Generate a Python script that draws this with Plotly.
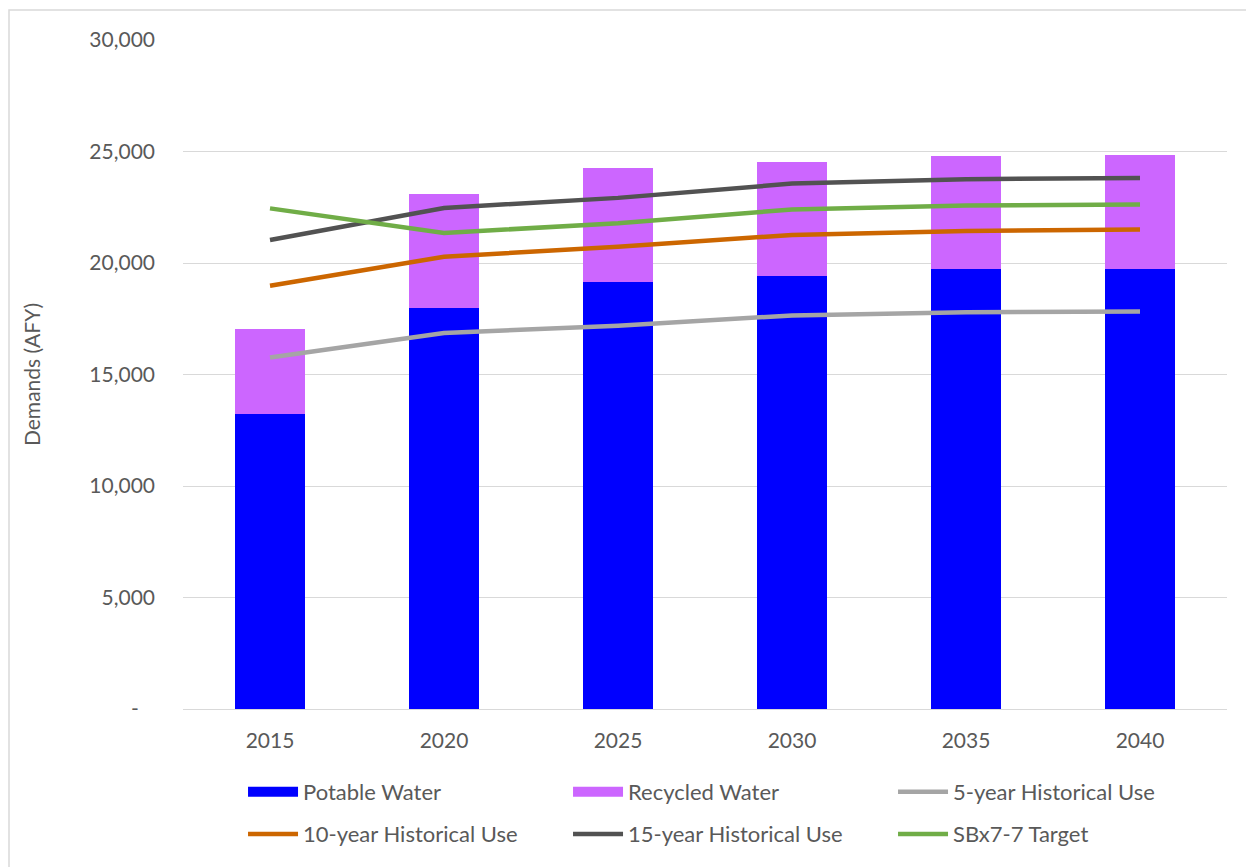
import plotly.graph_objects as go

years = ["2015", "2020", "2025", "2030", "2035", "2040"]
potable = [13230, 18000, 19160, 19420, 19720, 19740]
total_demand = [17040, 23100, 24250, 24520, 24810, 24840]
recycled = [t - p for t, p in zip(total_demand, potable)]
hist5 = [15760, 16860, 17190, 17650, 17790, 17830]
hist10 = [18980, 20280, 20730, 21260, 21440, 21500]
hist15 = [21030, 22470, 22920, 23560, 23760, 23810]
sbx77 = [22450, 21350, 21780, 22400, 22580, 22620]

y_ticks = [0, 5000, 10000, 15000, 20000, 25000, 30000]
y_tick_text = ["-\u00a0\u00a0\u00a0", "5,000", "10,000", "15,000", "20,000", "25,000", "30,000"]

FONT = "Lato, Calibri, Carlito, sans-serif"
TXT = "#595959"
BLUE = "#0000FF"
PURPLE = "#CC66FF"

fig = go.Figure()
fig.add_trace(go.Bar(x=years, y=potable, name="Potable Water", marker_color=BLUE,
                     marker_line_width=0, showlegend=False, legendgroup="pot"))
fig.add_trace(go.Bar(x=years, y=recycled, name="Recycled Water", marker_color=PURPLE,
                     marker_line_width=0, showlegend=False, legendgroup="rec"))
# legend-only entries giving wide rectangular swatches for the bar series
fig.add_trace(go.Scatter(x=[None], y=[None], name="Potable Water", mode="lines",
                         line=dict(color=BLUE, width=14), legend="legend", legendgroup="pot"))
fig.add_trace(go.Scatter(x=[None], y=[None], name="Recycled Water", mode="lines",
                         line=dict(color=PURPLE, width=14), legend="legend", legendgroup="rec"))
fig.add_trace(go.Scatter(x=years, y=hist5, name="5-year Historical Use", mode="lines",
                         line=dict(color="#A5A5A5", width=4.5), legend="legend"))
fig.add_trace(go.Scatter(x=years, y=hist10, name="10-year Historical Use", mode="lines",
                         line=dict(color="#CC6600", width=4.5), legend="legend2"))
fig.add_trace(go.Scatter(x=years, y=hist15, name="15-year Historical Use", mode="lines",
                         line=dict(color="#525252", width=4.5), legend="legend2"))
fig.add_trace(go.Scatter(x=years, y=sbx77, name="SBx7-7 Target", mode="lines",
                         line=dict(color="#70AD47", width=4.5), legend="legend2"))

leg_common = dict(orientation="h", entrywidth=260, entrywidthmode="pixels", itemwidth=50,
                  font=dict(family=FONT, size=22, color=TXT), bgcolor="rgba(0,0,0,0)",
                  x=0.0575, xanchor="left", yanchor="middle", traceorder="normal")

fig.update_layout(
    width=1246, height=867,
    margin=dict(l=183, r=19, t=40, b=158, autoexpand=False),
    paper_bgcolor="white", plot_bgcolor="white",
    barmode="stack", bargap=0.6,
    font=dict(family=FONT, size=21, color=TXT),
    legend=dict(y=-0.124, **leg_common),
    legend2=dict(y=-0.187, **leg_common),
    xaxis=dict(showgrid=False, showline=False, zeroline=False, ticks="",
               tickfont=dict(family=FONT, size=21, color=TXT), ticklabelstandoff=17),
    yaxis=dict(range=[0, 30000], tickvals=y_ticks, ticktext=y_tick_text,
               showgrid=True, gridcolor="#D9D9D9", gridwidth=1, zeroline=True,
               zerolinecolor="#D9D9D9", zerolinewidth=1, showline=False, ticks="",
               tickfont=dict(family=FONT, size=21, color=TXT), ticklabelstandoff=27,
               title=dict(text="Demands (AFY)", font=dict(family=FONT, size=21, color=TXT),
                          standoff=42)),
    shapes=[dict(type="rect", xref="paper", yref="paper",
                 x0=(9 - 183) / 1044, x1=1.5, y0=-1.0, y1=(709 - 10) / 669,
                 line=dict(color="#D9D9D9", width=1.5), fillcolor="rgba(0,0,0,0)", layer="below")],
)

fig.write_html("out.html")
